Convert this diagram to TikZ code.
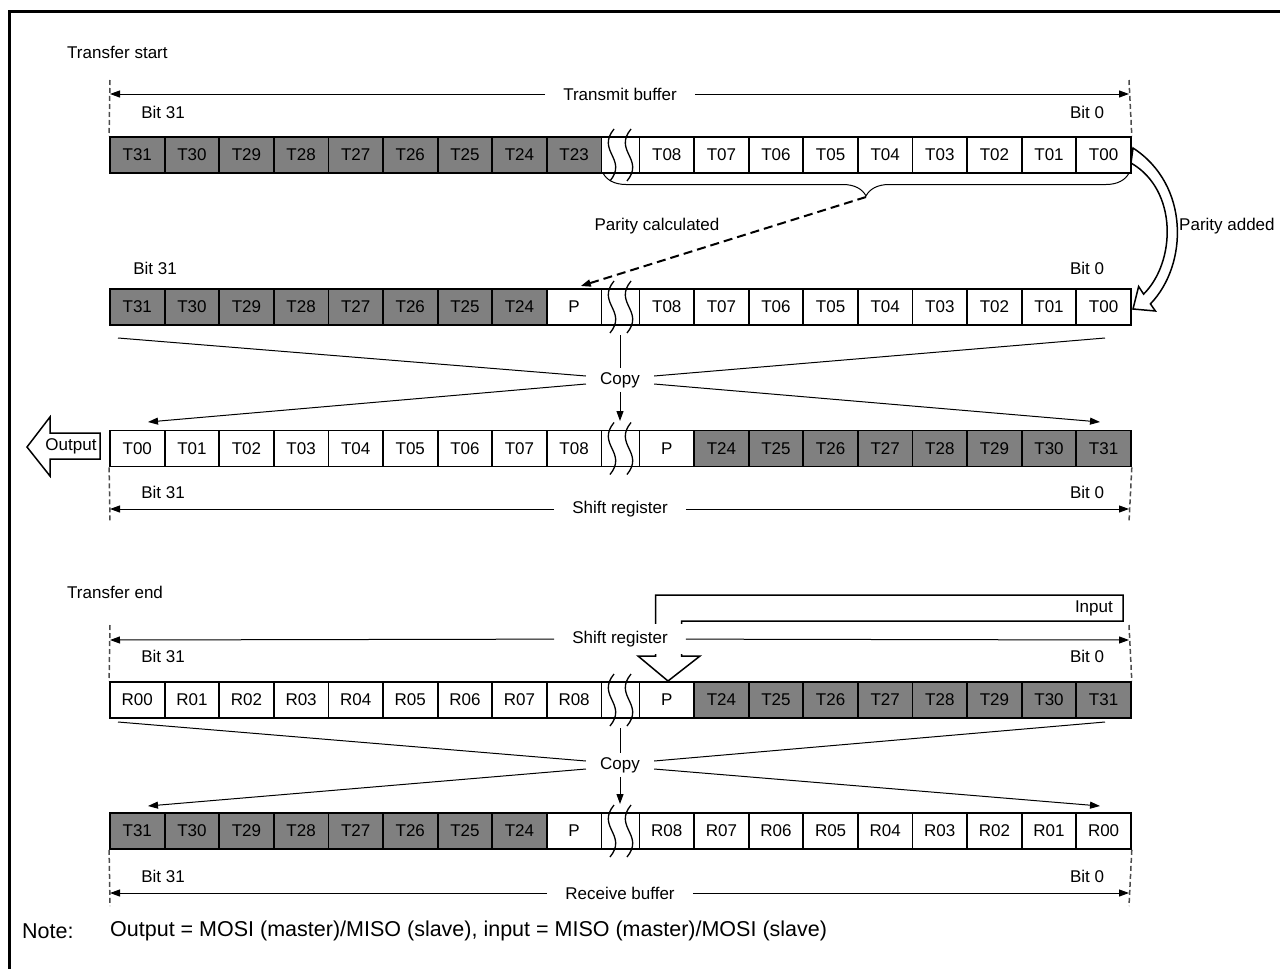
\documentclass[tikz,border=0pt]{standalone}
\usepackage{fontspec}
\setmainfont{Liberation Sans}
\usetikzlibrary{arrows.meta,decorations.pathreplacing}
\definecolor{regfill}{RGB}{128,128,128}
% break mark between the two halves of a register row
\newcommand{\gapmark}[1]{%
  \draw[line width=1.8pt] (601.4,{#1-18}) -- (639.5,{#1-18}) (601.4,{#1+18}) -- (639.5,{#1+18});
  \foreach \gx in {612,629}
    \draw[line width=1.3pt] (\gx+2,{#1-26}) .. controls (\gx-16,{#1-4}) and (\gx+16,{#1+4}) .. (\gx-2,{#1+26});
}

\begin{document}
\begin{tikzpicture}[x=1pt, y=-1pt, >={Triangle[length=10pt,width=7pt]},
  font=\fontsize{17}{20}\selectfont,
  cell/.style={draw, line width=1.8pt, minimum width=54.6pt, minimum height=36pt, inner sep=0pt},
  lbl/.style={inner sep=0pt},
  dimlbl/.style={fill=white, inner xsep=18pt, inner ysep=0pt, minimum height=30pt},
  guide/.style={draw=black!70, line width=1.5pt, dash pattern=on 5pt off 3pt},
  thin/.style={line width=1pt},
  hollow/.style={draw, line width=1.5pt, fill=white, line join=miter}]

\useasboundingbox (0,0) rectangle (1280,969);
\draw[line width=3pt] (9.5,969) -- (9.5,11) -- (1280,11);

% transfer start
\node[lbl, anchor=west] (start) at (67,52) {Transfer start};

% transmit buffer
\foreach \t [count=\i] in {T31,T30,T29,T28,T27,T26,T25,T24,T23}
  \node[cell, fill=regfill] (tx\i) at ({82.7+54.6*\i},155) {\t};
\foreach \t [count=\i from 10] in {T08,T07,T06,T05,T04,T03,T02,T01,T00}
  \node[cell, fill=white] (tx\i) at ({120.8+54.6*\i},155) {\t};
\gapmark{155}
\coordinate (txl) at (110,94);
\coordinate (txr) at (1129,94);
\coordinate (txgl) at (110,80);
\coordinate (txgr) at (1129,80);
\draw[guide] (txgl) -- (tx1.north west);
\draw[guide] (txgr) -- (tx18.north east);
\node[dimlbl] (txbuf) at (620,94) {Transmit buffer};
\draw[thin,->] (txbuf) -- (txl);
\draw[thin,->] (txbuf) -- (txr);
\node[lbl] (txb31) at (163,112) {Bit 31};
\node[lbl] (txb0) at (1087,112) {Bit 0};
\draw[thin, decorate, decoration={brace, mirror, amplitude=23pt}] (603,173) -- (1129,173);
\coordinate (bt) at (866,197);

% parity inserted
\foreach \t/\c [count=\i] in {T31/regfill,T30/regfill,T29/regfill,T28/regfill,T27/regfill,T26/regfill,T25/regfill,T24/regfill,P/white}
  \node[cell, fill=\c] (px\i) at ({82.7+54.6*\i},307) {\t};
\foreach \t [count=\i from 10] in {T08,T07,T06,T05,T04,T03,T02,T01,T00}
  \node[cell, fill=white] (px\i) at ({120.8+54.6*\i},307) {\t};
\gapmark{307}
\node[lbl] (pxb31) at (155,268) {Bit 31};
\node[lbl] (pxb0) at (1087,268) {Bit 0};
\draw[->, line width=2pt, dash pattern=on 9pt off 5pt, shorten >=7pt] (bt) -- (px9.north);
\node[lbl] (pcalc) at (657,226) {Parity calculated};
\draw[hollow] (1133,148) .. controls (1190,185) and (1188,265) .. (1150.4,303.9)
  -- (1155.4,311) -- (1133,309) -- (1138.6,286.5) -- (1143.6,294.1)
  .. controls (1176,262) and (1178,190) .. (1131,163) -- cycle;
\node[lbl, anchor=west] (padd) at (1179,226) {Parity added};

% copy to shift register
\node[inner xsep=14pt, inner ysep=4pt] (cp1) at (620,380) {Copy};
\coordinate (cp1a) at (118,338);
\coordinate (cp1b) at (1105,338);
\coordinate (cp1c) at (148,422);
\coordinate (cp1d) at (1100,422);
\coordinate (cp1e) at (620,335);
\coordinate (cp1f) at (620,421);
\draw[thin] (cp1a) -- ([yshift=4pt]cp1.west);
\draw[thin] (cp1b) -- ([yshift=4pt]cp1.east);
\draw[thin,->] ([yshift=-4pt]cp1.west) -- (cp1c);
\draw[thin,->] ([yshift=-4pt]cp1.east) -- (cp1d);
\draw[thin] (cp1e) -- (cp1);
\draw[thin,->] (cp1) -- (cp1f);

% shift register (start)
\foreach \t [count=\i] in {T00,T01,T02,T03,T04,T05,T06,T07,T08}
  \node[cell, fill=white] (sh\i) at ({82.7+54.6*\i},448.5) {\t};
\foreach \t/\c [count=\i from 10] in {P/white,T24/regfill,T25/regfill,T26/regfill,T27/regfill,T28/regfill,T29/regfill,T30/regfill,T31/regfill}
  \node[cell, fill=\c] (sh\i) at ({120.8+54.6*\i},448.5) {\t};
\gapmark{448.5}
\draw[hollow] (27,447) -- (50,417) -- (50,433) -- (100,433) -- (100,459) -- (50,459) -- (50,476) -- cycle;
\node[lbl] (out) at (71,446) {Output};
\node[lbl] (shb31) at (163,492) {Bit 31};
\node[lbl] (shb0) at (1087,492) {Bit 0};
\coordinate (shl) at (110,509);
\coordinate (shr) at (1129,509);
\coordinate (shgl) at (110,522);
\coordinate (shgr) at (1129,522);
\draw[guide] (sh1.south west) -- (shgl);
\draw[guide] (sh18.south east) -- (shgr);
\node[dimlbl] (shreg) at (620,509) {Shift register};
\draw[thin,->] (shreg) -- (shl);
\draw[thin,->] (shreg) -- (shr);

% transfer end
\node[lbl, anchor=west] (end) at (67,592) {Transfer end};
\draw[hollow] (655.7,595) -- (1123,595) -- (1123,621) -- (681.7,621) -- (681.7,656)
  -- (700,656) -- (668,681) -- (638,656) -- (655.7,656) -- cycle;
\node[lbl, anchor=east] (in) at (1113,608) {Input};
\coordinate (srl) at (110,640);
\coordinate (srr) at (1129,640);
\coordinate (srgl) at (110,625);
\coordinate (srgr) at (1129,625);
\node[dimlbl] (srreg) at (620,639) {Shift register};
\draw[thin,->] (srreg) -- (srl);
\draw[thin,->] (srreg) -- (srr);
\node[lbl] (srb31) at (163,656) {Bit 31};
\node[lbl] (srb0) at (1087,656) {Bit 0};

% shift register (end)
\foreach \t [count=\i] in {R00,R01,R02,R03,R04,R05,R06,R07,R08}
  \node[cell, fill=white] (sr\i) at ({82.7+54.6*\i},700) {\t};
\foreach \t/\c [count=\i from 10] in {P/white,T24/regfill,T25/regfill,T26/regfill,T27/regfill,T28/regfill,T29/regfill,T30/regfill,T31/regfill}
  \node[cell, fill=\c] (sr\i) at ({120.8+54.6*\i},700) {\t};
\gapmark{700}
\draw[guide] (srgl) -- (sr1.north west);
\draw[guide] (srgr) -- (sr18.north east);

% copy to receive buffer
\node[inner xsep=14pt, inner ysep=4pt] (cp2) at (620,765) {Copy};
\coordinate (cp2a) at (118,722);
\coordinate (cp2b) at (1105,722);
\coordinate (cp2c) at (148,806);
\coordinate (cp2d) at (1100,806);
\coordinate (cp2e) at (620,728);
\coordinate (cp2f) at (620,804);
\draw[thin] (cp2a) -- ([yshift=4pt]cp2.west);
\draw[thin] (cp2b) -- ([yshift=4pt]cp2.east);
\draw[thin,->] ([yshift=-4pt]cp2.west) -- (cp2c);
\draw[thin,->] ([yshift=-4pt]cp2.east) -- (cp2d);
\draw[thin] (cp2e) -- (cp2);
\draw[thin,->] (cp2) -- (cp2f);

% receive buffer
\foreach \t/\c [count=\i] in {T31/regfill,T30/regfill,T29/regfill,T28/regfill,T27/regfill,T26/regfill,T25/regfill,T24/regfill,P/white}
  \node[cell, fill=\c] (rx\i) at ({82.7+54.6*\i},831) {\t};
\foreach \t [count=\i from 10] in {R08,R07,R06,R05,R04,R03,R02,R01,R00}
  \node[cell, fill=white] (rx\i) at ({120.8+54.6*\i},831) {\t};
\gapmark{831}
\node[lbl] (rxb31) at (163,876) {Bit 31};
\node[lbl] (rxb0) at (1087,876) {Bit 0};
\coordinate (rxl) at (110,893);
\coordinate (rxr) at (1129,893);
\coordinate (rxgl) at (110,906);
\coordinate (rxgr) at (1129,906);
\draw[guide] (rx1.south west) -- (rxgl);
\draw[guide] (rx18.south east) -- (rxgr);
\node[dimlbl] (rxbuf) at (620,893) {Receive buffer};
\draw[thin,->] (rxbuf) -- (rxl);
\draw[thin,->] (rxbuf) -- (rxr);

% note
\node[lbl, anchor=west, font=\fontsize{21.5}{24}\selectfont] (note) at (22,931) {Note:};
\node[lbl, anchor=west, font=\fontsize{21.5}{24}\selectfont] (notetxt) at (110,931) {Output = MOSI (master)/MISO (slave), input = MISO (master)/MOSI (slave)};
\end{tikzpicture}
\end{document}
